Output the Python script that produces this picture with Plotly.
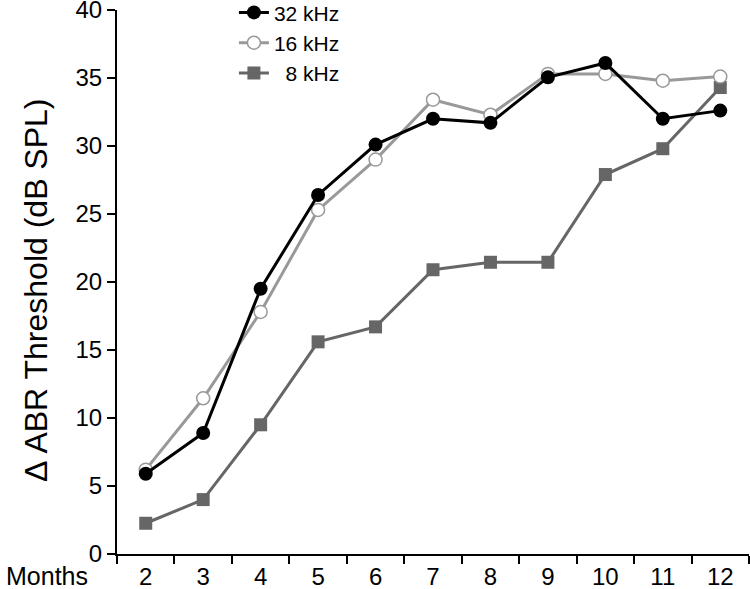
import plotly.graph_objects as go

months = [2, 3, 4, 5, 6, 7, 8, 9, 10, 11, 12]
khz32 = [5.9, 8.9, 19.5, 26.4, 30.1, 32.0, 31.7, 35.05, 36.1, 32.0, 32.6]
khz16 = [6.2, 11.45, 17.8, 25.3, 29.0, 33.4, 32.3, 35.3, 35.3, 34.8, 35.1]
khz8 = [2.26, 4.0, 9.5, 15.6, 16.7, 20.9, 21.45, 21.45, 27.9, 29.8, 34.3]
y_ticks = [0, 5, 10, 15, 20, 25, 30, 35, 40]
names = ["32 kHz", "16 kHz", "\u00a0\u00a08 kHz"]

FONT = "Liberation Sans, Arial, sans-serif"

fig = go.Figure()
fig.add_trace(go.Scatter(
    x=months, y=khz8, name=names[2], mode="lines+markers",
    line=dict(color="#666666", width=3),
    marker=dict(symbol="square", size=13, color="#666666", line=dict(width=0)),
))
fig.add_trace(go.Scatter(
    x=months, y=khz16, name=names[1], mode="lines+markers",
    line=dict(color="#999999", width=3),
    marker=dict(symbol="circle", size=13, color="white", line=dict(color="#999999", width=1.5)),
))
fig.add_trace(go.Scatter(
    x=months, y=khz32, name=names[0], mode="lines+markers",
    line=dict(color="black", width=3),
    marker=dict(symbol="circle", size=14, color="black", line=dict(width=0)),
))

fig.update_layout(
    width=750, height=589,
    margin=dict(l=117, r=1, t=0, b=35, autoexpand=False),
    plot_bgcolor="white", paper_bgcolor="white",
    font=dict(family=FONT, size=24, color="black"),
    showlegend=True,
    legend=dict(
        x=0.185, y=1.014, xanchor="left", yanchor="top",
        traceorder="reversed", bgcolor="rgba(0,0,0,0)",
        font=dict(size=21), tracegroupgap=0,
    ),
    xaxis=dict(
        range=[1.5, 12.5], tickvals=months, ticktext=[str(m) for m in months],
        ticks="outside", ticklen=0.5, tickcolor="rgba(0,0,0,0)",
        showgrid=False, zeroline=False, automargin=False,
        showline=True, linecolor="black", linewidth=2,
        minor=dict(ticks="outside", tick0=1.5, dtick=1, ticklen=8,
                   tickcolor="black", tickwidth=2, showgrid=False),
        tickfont=dict(size=24),
    ),
    yaxis=dict(
        domain=[0, 0.982],
        range=[0, 40], tickvals=y_ticks, ticks="outside", ticklen=8,
        tickwidth=2, tickcolor="black", showgrid=False, zeroline=False,
        showline=True, linecolor="black", linewidth=2, automargin=False,
        ticklabeloverflow="allow",
        tickfont=dict(size=24),
    ),
)
fig.add_annotation(
    text="\u0394 ABR Threshold (dB SPL)", textangle=-90,
    xref="paper", yref="paper", x=-0.128, y=0.4765,
    xanchor="center", yanchor="middle", showarrow=False,
    font=dict(size=32, family=FONT),
)
fig.add_annotation(
    text="Months", xref="paper", yref="y", x=-0.042, y=0,
    xanchor="right", yanchor="middle", yshift=-22, showarrow=False,
    font=dict(size=25, family=FONT),
)
fig.write_html("out.html", config={"displayModeBar": False},
               post_script="document.body.style.margin='0';")
